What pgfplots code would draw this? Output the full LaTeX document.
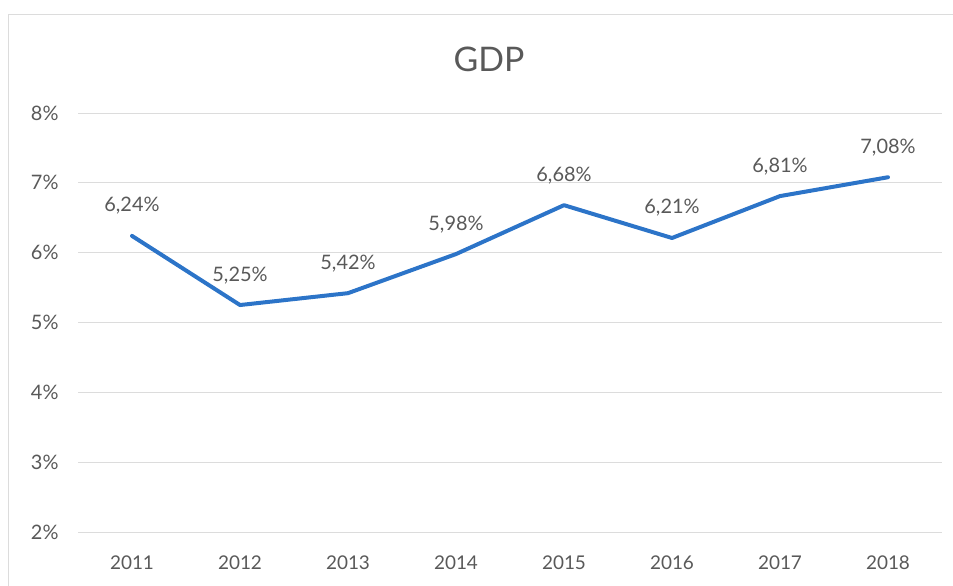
\documentclass[border=0pt]{standalone}
\usepackage{pgfplots}
\pgfplotsset{compat=1.18}
\usepackage{fontspec}
\setmainfont{Lato}
\definecolor{lineblue}{RGB}{44,116,200}
\definecolor{txtgray}{RGB}{89,89,89}
\definecolor{gridgray}{RGB}{220,220,220}
\begin{document}
\begin{tikzpicture}[x=1bp,y=1bp]
\useasboundingbox (0,0) rectangle (953,586);
\draw[gridgray,line width=0.8bp] (8,-20) rectangle (980,572);
\node[font=\fontsize{34}{38}\selectfont,text=txtgray] at (489,527) {GDP};
\begin{axis}[
  at={(78bp,54bp)}, anchor=south west,
  scale only axis, width=864bp, height=419bp,
  xmin=-0.5, xmax=7.5, ymin=2, ymax=8,
  xtick={0,...,7},
  xticklabels={2011,2012,2013,2014,2015,2016,2017,2018},
  ytick={2,3,4,5,6,7,8},
  yticklabel={\pgfmathprintnumber{\tick}\%},
  /pgf/number format/assume math mode=true,
  axis line style={draw=none},
  major tick length=0pt,
  ymajorgrids, grid style={gridgray,line width=0.8bp},
  tick label style={text=txtgray},
  xticklabel style={font=\fontsize{19}{21}\selectfont,yshift=-20bp},
  yticklabel style={font=\fontsize{20}{22}\selectfont,xshift=-16bp},
  nodes near coords,
  point meta=explicit symbolic,
  every node near coord/.style={font=\fontsize{20}{22}\selectfont,text=txtgray,anchor=south,yshift=16bp},
  clip=false,
]
\addplot[lineblue,line width=4bp,line join=round,line cap=round,mark=none] coordinates {
 (0,6.24)[6,24\%]
 (1,5.25)[5,25\%]
 (2,5.42)[5,42\%]
 (3,5.98)[5,98\%]
 (4,6.68)[6,68\%]
 (5,6.21)[6,21\%]
 (6,6.81)[6,81\%]
 (7,7.08)[7,08\%]
};
\end{axis}
\end{tikzpicture}
\end{document}
